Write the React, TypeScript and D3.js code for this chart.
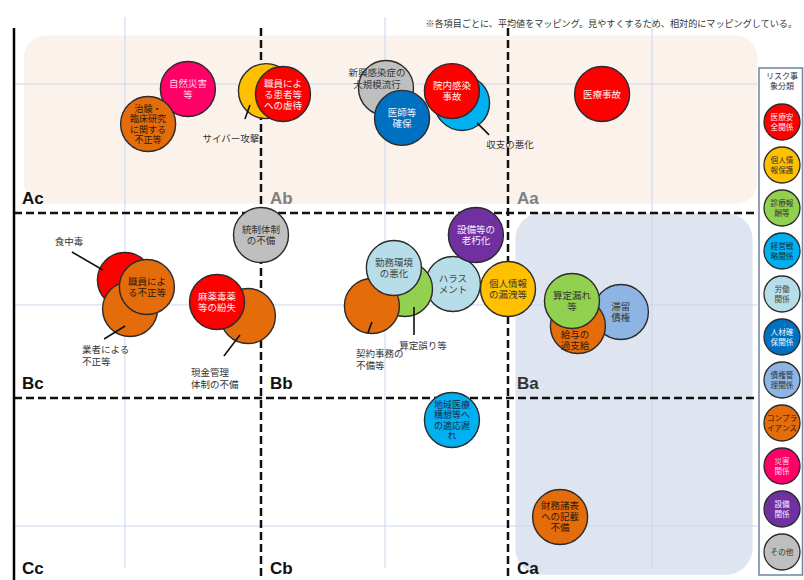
import * as d3 from "d3";

// リスク事象分類（凡例）
const categories = [
  "医療安全関係",
  "個人情報保護",
  "診療報酬等",
  "経営戦略関係",
  "労働関係",
  "人材確保関係",
  "債権管理関係",
  "コンプライアンス",
  "災害関係",
  "設備関係",
  "その他",
];
const legendLabels = [
  "医療安\n全関係",
  "個人情\n報保護",
  "診療報\n酬等",
  "経営戦\n略関係",
  "労働\n関係",
  "人材確\n保関係",
  "債権管\n理関係",
  "コンプラ\nイアンス",
  "災害\n関係",
  "設備\n関係",
  "その他",
];
const categoryColors = [
  "#ff0000",
  "#ffc000",
  "#92d050",
  "#00b0f0",
  "#b7dee8",
  "#0070c0",
  "#8db4e2",
  "#e46c0a",
  "#ff0066",
  "#7030a0",
  "#bfbfbf",
];
const categoryTextColors = [
  "#fff0f0",
  "#333",
  "#333",
  "#1a2a44",
  "#444",
  "#f0f6ff",
  "#333",
  "#2a1a0a",
  "#ffd6e6",
  "#f6eeff",
  "#333",
];

// リスク項目（平均値）
const riskNames = [
  "自然災害等",
  "治験・臨床研究に関する不正等",
  "サイバー攻撃",
  "職員による患者等への虐待",
  "新興感染症の大規模流行",
  "医師等確保",
  "収支の悪化",
  "院内感染事故",
  "医療事故",
  "統制体制の不備",
  "食中毒",
  "業者による不正等",
  "職員による不正等",
  "現金管理体制の不備",
  "麻薬毒薬等の紛失",
  "ハラスメント",
  "算定誤り等",
  "契約事務の不備等",
  "勤務環境の悪化",
  "設備等の老朽化",
  "個人情報の漏洩等",
  "滞留債権",
  "給与の過支給",
  "算定漏れ等",
  "地域医療構想等への適応遅れ",
  "財務諸表への記載不備",
];
const riskX = [
  7.04, 5.43, 10.2, 10.89, 15.06, 15.71, 18.14, 17.73, 23.81, 10.0, 4.49, 4.7,
  5.38, 9.47, 8.22, 17.77, 15.83, 14.49, 15.38, 18.7, 20.0, 24.57, 22.83,
  22.59, 17.73, 22.11,
];
const riskY = [
  26.7, 24.81, 26.59, 26.43, 26.76, 25.14, 25.95, 26.59, 26.43, 18.81, 16.38,
  14.81, 16.0, 14.43, 15.19, 16.16, 15.89, 14.97, 17.03, 18.81, 15.89, 14.65,
  13.89, 15.24, 8.81, 3.57,
];
const riskCategory = [
  8, 7, 1, 0, 10, 5, 3, 0, 0, 10, 0, 7, 7, 7, 0, 4, 2, 7, 4, 9, 1, 6, 7, 2, 3,
  7,
];
const riskLabels = [
  "自然災害\n等",
  "治験・\n臨床研究\nに関する\n不正等",
  "",
  "職員によ\nる患者等\nへの虐待",
  "",
  "医師等\n確保",
  "",
  "院内感染\n事故",
  "医療事故",
  "統制体制\nの不備",
  "",
  "",
  "職員によ\nる不正等",
  "",
  "麻薬毒薬\n等の紛失",
  "ハラス\nメント",
  "",
  "",
  "勤務環境\nの悪化",
  "設備等の\n老朽化",
  "個人情報\nの漏洩等",
  "滞留\n債権",
  "給与の\n過支給",
  "算定漏れ\n等",
  "地域医療\n構想等へ\nの適応遅\nれ",
  "財務諸表\nへの記載\n不備",
];

// 吹き出しラベル（バブル中心からのずれ）
const callouts = [
  { name: "サイバー攻撃", text: "サイバー攻撃", dx: -35, dy: 47, anchor: "middle", line: [-21, 28, -16, 14] },
  { name: "収支の悪化", text: "収支の悪化", dx: 48, dy: 42, anchor: "middle", line: [15, 20, 27, 32] },
  { name: "食中毒", text: "食中毒", dx: -56, dy: -38, anchor: "middle", line: [-53, -28, -22, -10] },
  { name: "業者による不正等", text: "業者による\n不正等", dx: -48, dy: 40, anchor: "start", line: [-5, 17, -26, 30] },
  { name: "現金管理体制の不備", text: "現金管理\n体制の不備", dx: -57, dy: 56, anchor: "start", line: [-8, 19, -24, 40] },
  { name: "契約事務の不備等", text: "契約事務の\n不備等", dx: -16, dy: 47, anchor: "start", line: [0, 16, -4, 27] },
  { name: "算定誤り等", text: "算定誤り等", dx: 18, dy: 56, anchor: "middle", line: [9, 18, 9, 46] },
  { name: "新興感染症の大規模流行", text: "新興感染症の\n大規模流行", dx: -9, dy: -15, anchor: "middle", line: null },
];
const labelShift: Record<string, [number, number]> = {
  "給与の過支給": [-3, 14],
};

const gridX = [4.49, 15.02, 25.83];
const gridY = [26.97, 15.03, 3.08];
const quadrantNames = ["Ac", "Ab", "Aa", "Bc", "Bb", "Ba", "Cc", "Cb", "Ca"];

const note =
  "※各項目ごとに、平均値をマッピング。見やすくするため、相対的にマッピングしている。";

const W = 804;
const H = 580;
const R = 27.5;
const JP = "'Noto Sans CJK JP', 'Noto Sans', sans-serif";

export default function App() {
  const x = d3.scaleLinear().domain([0, 30]).range([14, 755]);
  const y = d3.scaleLinear().domain([0, 30]).range([583, 28]);
  const legendY = d3.scalePoint<string>().domain(categories).range([122, 552]);
  const legendCx = 782;

  const lines = (s: string) => s.split("\n");

  return (
    <div style={{ position: "absolute", left: 0, top: 0 }}>
      <svg width={W} height={H} style={{ display: "block", background: "#fff" }}>
        {/* 背景 */}
        <rect
          x={x(0.4)}
          y={y(29.6)}
          width={x(30.1) - x(0.4)}
          height={y(20.5) - y(29.6)}
          rx={22}
          fill="#fbf2ec"
        />
        <rect
          x={x(20.3)}
          y={y(20)}
          width={x(29.9) - x(20.3)}
          height={y(0.45) - y(20)}
          rx={26}
          fill="#dee5f0"
        />

        {/* グリッド */}
        {gridX.map((v) => (
          <line key={"gx" + v} x1={x(v)} x2={x(v)} y1={17} y2={568} stroke="#c9d7ec" strokeWidth={1} />
        ))}
        {gridY.map((v) => (
          <line key={"gy" + v} x1={x(0)} x2={x(30.1)} y1={y(v)} y2={y(v)} stroke="#c9d7ec" strokeWidth={1} />
        ))}

        {/* 区分線 */}
        {[10, 20].map((v) => (
          <line key={"dh" + v} x1={x(0)} x2={x(30)} y1={y(v)} y2={y(v)} stroke="#111" strokeWidth={2.5} strokeDasharray="8,4" />
        ))}
        {[10, 20].map((v) => (
          <line key={"dv" + v} x1={x(v)} x2={x(v)} y1={y(30)} y2={y(0)} stroke="#111" strokeWidth={2.5} strokeDasharray="8,4" />
        ))}
        <line x1={x(0)} x2={x(0)} y1={y(30)} y2={y(0)} stroke="#000" strokeWidth={2.5} />

        {/* 区分ラベル */}
        {quadrantNames.map((q, i) => {
          const row = Math.floor(i / 3);
          const col = i % 3;
          const gray = q === "Ab" || q === "Aa";
          return (
            <text
              key={q}
              x={x(col * 10) + (col === 0 ? 8 : 9)}
              y={y(20 - row * 10) - 9}
              fontFamily="'Liberation Sans', Arial, sans-serif"
              fontWeight="bold"
              fontSize={17}
              fill={gray ? "#808080" : q === "Ba" ? "#333" : "#111"}
            >
              {q}
            </text>
          );
        })}

        {/* バブル */}
        {riskNames.map((name, i) => {
          const cx = x(riskX[i]);
          const cy = y(riskY[i]);
          const c = riskCategory[i];
          const ls = lines(riskLabels[i]).filter((l) => l.length);
          const sh = labelShift[name] || [0, 0];
          const lh = ls.length > 3 ? 10.5 : 11;
          return (
            <g key={name}>
              <circle cx={cx} cy={cy} r={R} fill={categoryColors[c]} stroke="#2b2b2b" strokeWidth={1.4} />
              {ls.length > 0 && (
                <text
                  x={cx + sh[0]}
                  fontFamily={JP}
                  fontSize={ls.length > 3 ? 9 : 9.5}
                  textAnchor="middle"
                  fill={categoryTextColors[c]}
                >
                  {ls.map((l, k) => (
                    <tspan key={k} x={cx + sh[0]} y={cy + sh[1] + (k - (ls.length - 1) / 2) * lh + 3.5}>
                      {l}
                    </tspan>
                  ))}
                </text>
              )}
            </g>
          );
        })}

        {/* 吹き出し */}
        {callouts.map((co) => {
          const i = riskNames.indexOf(co.name);
          const cx = x(riskX[i]);
          const cy = y(riskY[i]);
          const ls = lines(co.text);
          return (
            <g key={"co" + co.name}>
              {co.line && (
                <line
                  x1={cx + co.line[0]}
                  y1={cy + co.line[1]}
                  x2={cx + co.line[2]}
                  y2={cy + co.line[3]}
                  stroke="#111"
                  strokeWidth={1.6}
                />
              )}
              <text fontFamily={JP} fontSize={9.5} fill="#333" textAnchor={co.anchor}>
                {ls.map((l, k) => (
                  <tspan key={k} x={cx + co.dx} y={cy + co.dy + k * 12 + 3.5}>
                    {l}
                  </tspan>
                ))}
              </text>
            </g>
          );
        })}

        {/* 注記 */}
        <text x={797} y={27} textAnchor="end" fontFamily={JP} fontSize={9.1} fill="#333">
          {note}
        </text>

        {/* 凡例 */}
        <rect x={759} y={68} width={43.5} height={507} fill="#fff" stroke="#6f83a3" strokeWidth={1.5} />
        <text fontFamily={JP} fontSize={8} fill="#333" textAnchor="middle">
          <tspan x={legendCx} y={79}>リスク事</tspan>
          <tspan x={legendCx} y={89}>象分類</tspan>
        </text>
        {categories.map((cat, i) => {
          const cy = legendY(cat) ?? 0;
          const ls = lines(legendLabels[i]);
          return (
            <g key={cat}>
              <circle cx={legendCx} cy={cy} r={18} fill={categoryColors[i]} stroke="#2b2b2b" strokeWidth={1.3} />
              <text fontFamily={JP} fontSize={7.6} textAnchor="middle" fill={categoryTextColors[i]}>
                {ls.map((l, k) => (
                  <tspan key={k} x={legendCx} y={cy + (k - (ls.length - 1) / 2) * 9.5 + 3}>
                    {l}
                  </tspan>
                ))}
              </text>
            </g>
          );
        })}
      </svg>
    </div>
  );
}
